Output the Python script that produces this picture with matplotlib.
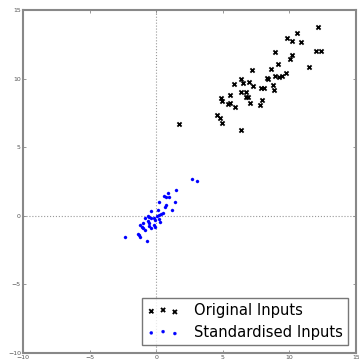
import matplotlib
matplotlib.use("Agg")
import matplotlib.pyplot as plt

orig_x = [12.17, 10.59, 9.84, 10.22, 10.89, 8.90, 12.0, 12.35, 10.22, 10.02,
          9.12, 11.45, 8.60, 7.19, 9.74, 9.44, 9.22, 8.90, 8.34, 8.38,
          6.37, 6.49, 5.84, 6.97, 7.27, 7.85, 8.07, 8.79, 8.87, 6.37,
          6.76, 5.56, 6.74, 6.91, 4.89, 4.92, 7.94, 5.41, 5.54, 7.06,
          7.82, 5.92, 4.54, 4.79, 4.96, 6.37, 1.71]
orig_y = [13.78, 13.32, 12.94, 12.74, 12.65, 11.96, 12.03, 12.01, 11.70, 11.43,
          11.06, 10.82, 10.72, 10.65, 10.39, 10.21, 10.09, 10.17, 10.04, 9.98,
          9.99, 9.68, 9.61, 9.73, 9.48, 9.31, 9.31, 9.53, 9.15, 9.02,
          9.02, 8.78, 8.68, 8.64, 8.56, 8.39, 8.44, 8.17, 8.20, 8.24,
          8.10, 7.93, 7.33, 7.15, 6.79, 6.25, 6.69]

std_x = [2.71, 3.06, 1.46, 0.86, 0.59, 0.76, 0.98, 0.21, 1.43, 0.71,
         0.64, -0.39, 0.14, 1.21, 0.53, 0.36, 0.21, 0.04, -0.64, -0.52,
         -0.37, -0.84, -0.19, 0.23, -0.09, 0.26, -0.62, -0.97, -0.52, -0.14,
         -0.09, -0.52, -1.19, -1.09, -1.01, -0.84, -0.37, -1.37, -1.29, -1.19,
         -2.34, -0.67]
std_y = [2.66, 2.54, 1.88, 1.66, 1.44, 1.39, 1.35, 0.98, 0.98, 0.81,
         0.66, 0.37, 0.44, 0.42, 0.20, 0.13, 0.06, 0.01, 0.01, -0.09,
         -0.16, -0.14, -0.18, -0.21, -0.31, -0.43, -0.38, -0.50, -0.52, -0.67,
         -0.84, -0.74, -0.69, -0.82, -0.91, -1.01, -0.91, -1.30, -1.42, -1.55,
         -1.57, -1.81]

labels = ["Original Inputs", "Standardised Inputs"]
xlim = (-10, 15)
ylim = (-10, 15)
ticks = [-10, -5, 0, 5, 10, 15]

fig = plt.figure(figsize=(3.59, 3.60), dpi=100)
ax = fig.add_axes([0.064, 0.0194, 0.928, 0.9526])

ax.axvline(0, color='#999999', linestyle=':', linewidth=0.8, zorder=1)
ax.axhline(0, color='#999999', linestyle=':', linewidth=0.8, zorder=1)

ax.scatter(orig_x, orig_y, marker='x', s=9, c='black', linewidths=1.3,
           label=labels[0], zorder=3)
ax.scatter(std_x, std_y, marker='o', s=5, c='blue', edgecolors='blue',
           linewidths=0.2, label=labels[1], zorder=3)

ax.set_xlim(*xlim)
ax.set_ylim(*ylim)
ax.set_xticks(ticks)
ax.set_yticks(ticks)
ax.tick_params(direction='in', top=True, right=True, labelsize=4.5,
               labelcolor='#555555', color='#888888', length=2.5, width=0.6, pad=1.5)
for s in ax.spines.values():
    s.set_color('#888888')
    s.set_linewidth(1.5)

leg = ax.legend(loc='lower right', scatterpoints=3, fontsize=10.6, fancybox=False,
                frameon=True, borderpad=0.35, handletextpad=1.0, labelspacing=0.45,
                borderaxespad=0.55, handlelength=2.2, markerscale=1.0,
                scatteryoffsets=[0.375, 0.5, 0.3125])
leg.get_frame().set_edgecolor('#555555')
leg.get_frame().set_linewidth(1.0)

fig.savefig('out.png', dpi=100)
